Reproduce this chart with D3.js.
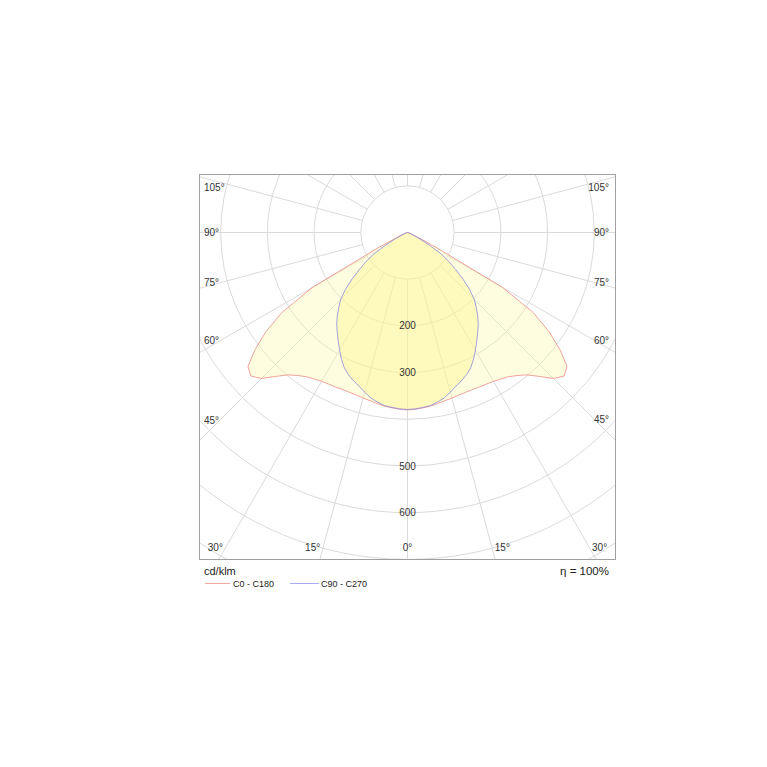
<!DOCTYPE html>
<html>
<head>
<meta charset="utf-8">
<script src="https://cdn.jsdelivr.net/npm/d3@7"></script>
<style>
html,body{margin:0;padding:0;background:#fff;}
svg{display:block;font-family:Arial,"Liberation Sans",sans-serif;}
</style>
</head>
<body>
<svg id="chart" width="767" height="767"></svg>
<script>
// ---- data ----
const gammaAngles = [0,2.5,5,7.5,10,12.5,15,17.5,20,22.5,25,27.5,30,32.5,35,37.5,40,42.5,45,47.5,50,52.5,55,57.5,60,62.5,65,67.5,70,72.5,75,77.5,80,82.5,85,87.5,90];
const c0c180  = [380,379,377,375,372,369,367,365,364,364,365,366,368,372,377,386,398,418,442,455,446,411,370,319,235,70,25,12,7,5,4,3,2,2,1,1,0];
const c90c270 = [379,378,376,374,369,363,354,345,338,330,320,306,291,276,262,249,234,218,202,180,155,130,108,85,55,30,15,8,5,3,2,1,1,0,0,0,0];
const seriesNames = ["C0 - C180", "C90 - C270"];
const gridValues = [100,200,300,400,500,600,700,800,900];
const valueLabels = [200,300,500,600];
const radialAngles = [0,15,30,45,60,75,90,105,120,135,150,165,180,195,210,225,240,255,270,285,300,315,330,345];
const angleLabels = [0,15,30,45,60,75,90,105];
const unitLabel = "cd/klm";
const efficiencyLabel = "η = 100%";

// ---- layout ----
const frame = {x0:199.5, y0:174.5, x1:615.5, y1:559.5};
const cx = 407.5, cy = 232.5;
const r = d3.scaleLinear().domain([0,100]).range([0,46.7]);
const gridColor = "#dadada";
const textColor = "#333";

const svg = d3.select("#chart");
svg.append("rect").attr("width",767).attr("height",767).attr("fill","#fff");

svg.append("clipPath").attr("id","frameClip")
  .append("rect").attr("x",frame.x0).attr("y",frame.y0)
  .attr("width",frame.x1-frame.x0).attr("height",frame.y1-frame.y0);

const plot = svg.append("g").attr("clip-path","url(#frameClip)");
const g = plot.append("g").attr("transform",`translate(${cx},${cy})`);

// grid circles
g.selectAll("circle.grid").data(gridValues).join("circle")
  .attr("class","grid").attr("r",d=>r(d))
  .attr("fill","none").attr("stroke",gridColor).attr("stroke-width",1);

// radial lines (start at the first circle)
const rad = d => d*Math.PI/180;
g.selectAll("line.spoke").data(radialAngles).join("line")
  .attr("class","spoke")
  .attr("x1",d=>r(gridValues[0])*Math.sin(rad(d)))
  .attr("y1",d=>r(gridValues[0])*Math.cos(rad(d)))
  .attr("x2",d=>r(1000)*Math.sin(rad(d)))
  .attr("y2",d=>r(1000)*Math.cos(rad(d)))
  .attr("stroke",gridColor).attr("stroke-width",1);

// build closed radial polygons: left half (C180/C270) and right half (C0/C90)
function buildPoints(values){
  const pts = [];
  for (let i = gammaAngles.length-1; i >= 1; i--) pts.push({a: Math.PI + rad(gammaAngles[i]), v: values[i]});
  pts.push({a: Math.PI, v: values[0]});
  for (let i = 1; i < gammaAngles.length; i++) pts.push({a: Math.PI - rad(gammaAngles[i]), v: values[i]});
  return pts;
}
const radial = d3.lineRadial().angle(d=>d.a).radius(d=>r(d.v)).curve(d3.curveLinearClosed);

const series = [
  {name: seriesNames[0], values: c0c180, fill: "rgb(255,250,160)", fillOpacity: 0.33, stroke: "#ec8c86"},
  {name: seriesNames[1], values: c90c270, fill: "rgb(252,244,140)", fillOpacity: 0.42, stroke: "#8a8ade"}
];
series.forEach(s=>{
  g.append("path").attr("d", radial(buildPoints(s.values)))
    .attr("fill", s.fill).attr("fill-opacity", s.fillOpacity).attr("stroke","none");
});
series.forEach(s=>{
  g.append("path").attr("d", radial(buildPoints(s.values)))
    .attr("fill","none").attr("stroke", s.stroke).attr("stroke-width",0.8);
});

// value labels
g.selectAll("text.val").data(valueLabels).join("text")
  .attr("class","val").attr("x",0).attr("y",d=>r(d)).attr("dy","0.35em")
  .attr("text-anchor","middle").attr("font-size","10px").attr("fill",textColor)
  .text(d=>d);

// angle labels
const inset = {left: cx-187.5, right: cx+186.5, top: 187, bottom: 547};
const labelPad = {left: 204, right: 609};
const angleLabelData = [];
angleLabels.forEach(a=>{
  const sides = a === 0 ? [0] : [-1, 1];
  sides.forEach(s=>{
    const dx = s*Math.sin(rad(a)), dy = Math.cos(rad(a));
    let tx = Infinity, ty = Infinity;
    if (Math.abs(dx) > 1e-9) tx = (s < 0 ? cx - inset.left : inset.right - cx) / Math.abs(dx);
    if (dy > 1e-9) { ty = (inset.bottom - cy)/dy; }
    else if (dy < -1e-9) { ty = (cy - inset.top)/(-dy); }
    let x, y, anchor;
    if (tx < ty || (dy < 0 && ty <= tx)) {
      y = Math.max(inset.top, Math.min(inset.bottom, cy + Math.min(tx,ty)*dy));
      if (s < 0) { x = labelPad.left; anchor = "start"; } else { x = labelPad.right; anchor = "end"; }
    } else {
      y = inset.bottom;
      const px = cx + ty*dx;
      if (s === 0) { x = px; anchor = "middle"; }
      else if (s < 0) { x = px - 3; anchor = "end"; }
      else { x = px + 3; anchor = "start"; }
    }
    angleLabelData.push({a, x, y, anchor});
  });
});
svg.selectAll("text.ang").data(angleLabelData).join("text")
  .attr("class","ang").attr("x",d=>d.x).attr("y",d=>d.y).attr("dy","0.35em")
  .attr("text-anchor",d=>d.anchor).attr("font-size","10px").attr("fill",textColor)
  .text(d=>d.a+"°");

// frame
svg.append("rect").attr("x",frame.x0).attr("y",frame.y0)
  .attr("width",frame.x1-frame.x0).attr("height",frame.y1-frame.y0)
  .attr("fill","none").attr("stroke","#a0a0a0").attr("stroke-width",1);

// footer
svg.append("text").attr("x",204).attr("y",575).attr("font-size","11px").attr("fill","#222").text(unitLabel);
svg.append("text").attr("x",609).attr("y",575).attr("text-anchor","end").attr("font-size","11.5px").attr("fill","#222").text(efficiencyLabel);

// legend
const legendItems = [
  {name: seriesNames[0], color: "#f2a9a6", x1: 205, x2: 230, tx: 233},
  {name: seriesNames[1], color: "#aaaaf0", x1: 290, x2: 319, tx: 321}
];
legendItems.forEach(it=>{
  svg.append("line").attr("x1",it.x1).attr("x2",it.x2).attr("y1",583.5).attr("y2",583.5)
    .attr("stroke",it.color).attr("stroke-width",1);
  svg.append("text").attr("x",it.tx).attr("y",586.5).attr("font-size","9px").attr("fill","#222").text(it.name);
});
</script>
</body>
</html>
